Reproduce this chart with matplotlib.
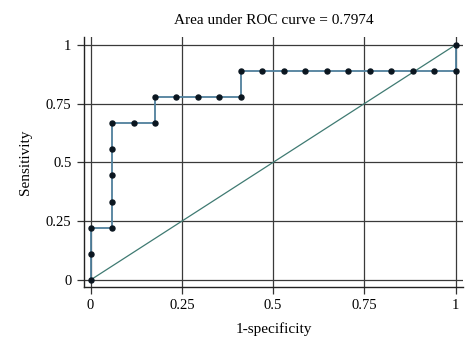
import matplotlib.pyplot as plt

# ROC points (17 negatives, 9 positives)
fpr_counts = [0, 0, 0, 1, 1, 1, 1, 1, 2, 3, 3, 4, 5, 6, 7, 7,
              8, 9, 10, 11, 12, 13, 14, 15, 16, 17, 17]
tpr_counts = [0, 1, 2, 2, 3, 4, 5, 6, 6, 6, 7, 7, 7, 7, 7, 8,
              8, 8, 8, 8, 8, 8, 8, 8, 8, 8, 9]
n_neg = 17
n_pos = 9
fpr = [c / n_neg for c in fpr_counts]
tpr = [c / n_pos for c in tpr_counts]

ticks = [0, 0.25, 0.5, 0.75, 1]
tick_labels = ['0', '0.25', '0.5', '0.75', '1']
auc = 0.7974

plt.rcParams['font.family'] = ['Liberation Serif', 'DejaVu Serif']

fig = plt.figure(figsize=(4.76, 3.48), dpi=100)
ax = fig.add_axes([0.1765, 0.1753, 0.7962, 0.7184])

ax.plot([0, 1], [0, 1], color='#3f7a72', linewidth=0.9, zorder=2)
ax.plot(fpr, tpr, color='#4f7f9c', linewidth=1.3, zorder=3)
ax.plot(fpr, tpr, 'o', color='#0b1620', markersize=3.6, zorder=4)

ax.set_xlim(-0.018, 1.02)
ax.set_ylim(-0.03, 1.033)
ax.set_xticks(ticks)
ax.set_xticklabels(tick_labels)
ax.set_yticks(ticks)
ax.set_yticklabels(tick_labels)
ax.grid(True, color='#3a3a3a', linewidth=0.9)
ax.set_axisbelow(True)

for side in ['top', 'right']:
    ax.spines[side].set_visible(False)
for side in ['left', 'bottom']:
    ax.spines[side].set_color('#222222')
    ax.spines[side].set_linewidth(1.0)

ax.tick_params(direction='out', length=5, width=0.9, color='#333333',
               labelsize=10.5, pad=4)

ax.set_xlabel('1-specificity', fontsize=11, labelpad=7)
ax.set_ylabel('Sensitivity', fontsize=11, labelpad=10)
ax.set_title(f'Area under ROC curve = {auc}', fontsize=11, pad=9)

plt.savefig('out.png', dpi=100)
